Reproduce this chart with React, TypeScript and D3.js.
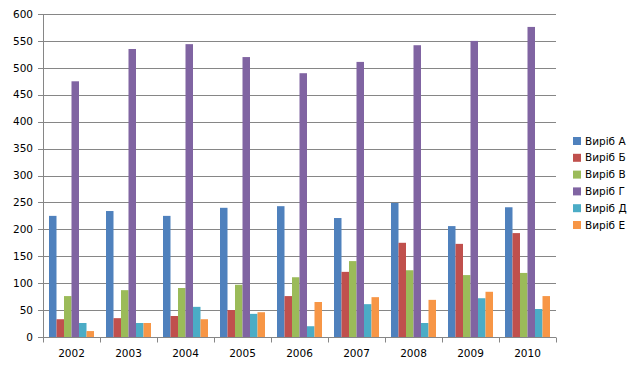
import * as d3 from 'd3'
import { useEffect, useRef } from 'react'

const years = ['2002', '2003', '2004', '2005', '2006', '2007', '2008', '2009', '2010']
const seriesNames = ['Виріб А', 'Виріб Б', 'Виріб В', 'Виріб Г', 'Виріб Д', 'Виріб Е']
const colors = ['#4F81BD', '#C0504D', '#9BBB59', '#8064A2', '#4BACC6', '#F79646']

const productA = [225, 234, 225, 240, 243, 221, 249, 206, 241]
const productB = [33, 35, 39, 50, 76, 121, 175, 173, 193]
const productC = [76, 87, 91, 97, 111, 141, 124, 115, 119]
const productD = [475, 535, 544, 520, 490, 511, 542, 550, 576]
const productE = [26, 26, 56, 43, 20, 61, 26, 72, 52]
const productF = [11, 26, 33, 46, 65, 74, 69, 84, 76]
const yTicks = [0, 50, 100, 150, 200, 250, 300, 350, 400, 450, 500, 550, 600]

const series = [productA, productB, productC, productD, productE, productF]

const App = () => {
  const ref = useRef<SVGSVGElement>(null)

  useEffect(() => {
    const width = 639
    const height = 367
    const margin = { top: 14, right: 83, bottom: 30, left: 43 }
    const font = '"DejaVu Sans", sans-serif'
    const fontSize = '10.5px'

    const svg = d3.select(ref.current)
    svg.selectAll('*').remove()
    svg.attr('width', width).attr('height', height)

    const x = d3
      .scaleBand()
      .domain(years)
      .range([margin.left, width - margin.right])
      .paddingInner(0)
    const inner = d3
      .scaleBand()
      .domain(d3.range(series.length).map(String))
      .range([6, x.bandwidth() - 6])
    const y = d3
      .scaleLinear()
      .domain([0, 600])
      .range([height - margin.bottom, margin.top])

    // gridlines
    svg
      .append('g')
      .selectAll('line')
      .data(yTicks)
      .join('line')
      .attr('x1', margin.left - 5)
      .attr('x2', width - margin.right)
      .attr('y1', (d) => Math.round(y(d)) + 0.5)
      .attr('y2', (d) => Math.round(y(d)) + 0.5)
      .attr('stroke', '#868686')
      .attr('stroke-width', 1)

    // y labels
    svg
      .append('g')
      .selectAll('text')
      .data(yTicks)
      .join('text')
      .attr('x', margin.left - 10)
      .attr('y', (d) => y(d))
      .attr('dy', '0.35em')
      .attr('text-anchor', 'end')
      .style('font-family', font)
      .style('font-size', fontSize)
      .attr('fill', '#000')
      .text((d) => d)

    // bars
    series.forEach((vals, si) => {
      svg
        .append('g')
        .attr('fill', colors[si])
        .selectAll('rect')
        .data(vals)
        .join('rect')
        .attr('x', (d, i) => x(years[i])! + inner(String(si))!)
        .attr('y', (d) => y(d))
        .attr('width', inner.bandwidth())
        .attr('height', (d) => y(0) - y(d))
    })

    // y axis line
    svg
      .append('line')
      .attr('x1', margin.left + 0.5)
      .attr('x2', margin.left + 0.5)
      .attr('y1', y(600))
      .attr('y2', y(0))
      .attr('stroke', '#868686')

    // x axis
    const xAxis = svg
      .append('g')
      .attr('transform', `translate(0, ${Math.round(y(0)) + 0.5})`)
    xAxis
      .append('line')
      .attr('x1', margin.left)
      .attr('x2', width - margin.right)
      .attr('stroke', '#868686')
    xAxis
      .selectAll('line.tick')
      .data(d3.range(years.length + 1))
      .join('line')
      .attr('class', 'tick')
      .attr('x1', (i) => Math.round(margin.left + i * x.step()) + 0.5)
      .attr('x2', (i) => Math.round(margin.left + i * x.step()) + 0.5)
      .attr('y1', 0)
      .attr('y2', 5)
      .attr('stroke', '#868686')
    xAxis
      .selectAll('text')
      .data(years)
      .join('text')
      .attr('x', (d) => x(d)! + x.bandwidth() / 2)
      .attr('y', 19)
      .attr('text-anchor', 'middle')
      .style('font-family', font)
      .style('font-size', fontSize)
      .attr('fill', '#000')
      .text((d) => d)

    // legend
    const legend = svg
      .append('g')
      .attr('transform', 'translate(573, 141)')
    const item = legend
      .selectAll('g')
      .data(seriesNames)
      .join('g')
      .attr('transform', (d, i) => `translate(0, ${i * 16.8})`)
    item
      .append('rect')
      .attr('x', 0)
      .attr('y', -4)
      .attr('width', 8)
      .attr('height', 8)
      .attr('fill', (d, i) => colors[i])
    item
      .append('text')
      .attr('x', 12)
      .attr('y', 0)
      .attr('dy', '0.35em')
      .style('font-family', font)
      .style('font-size', fontSize)
      .attr('fill', '#000')
      .text((d) => d)
  }, [])

  return (
    <div>
      <svg ref={ref} style={{ position: 'absolute', left: 0, top: 0, background: '#fff' }}></svg>
    </div>
  )
}
export default App
